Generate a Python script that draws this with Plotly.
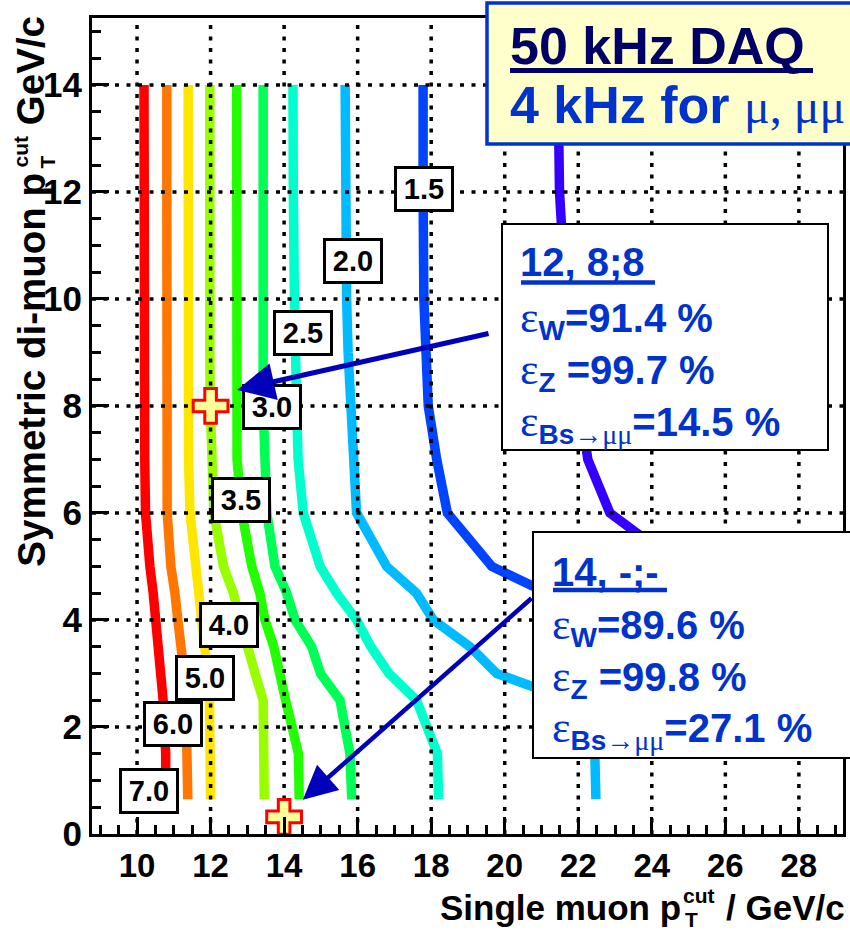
import plotly.graph_objects as go

# ---------------------------------------------------------------------------
# Iso-rate contours of the muon trigger: single muon threshold vs symmetric
# di-muon threshold.  Each contour is sampled at the di-muon threshold nodes.
# ---------------------------------------------------------------------------
dimuon_cut = [0.65, 1.5, 2.5, 3.0, 3.5, 4.0, 4.5, 5.0, 6.0, 7.0, 8.0, 9.0, 10.0, 12.0, 14.0]

rate_levels = [7.0, 6.0, 5.0, 4.0, 3.5, 3.0, 2.5, 2.0, 1.5, 1.0]

single_7p0 = [10.78, 10.78, 10.71, 10.65, 10.60, 10.51, 10.44, 10.35, 10.23, 10.21, 10.20, 10.20, 10.19, 10.19, 10.19]
single_6p0 = [11.38, 11.38, 11.33, 11.28, 11.22, 11.11, 11.03, 10.92, 10.82, 10.81, 10.81, 10.81, 10.81, 10.81, 10.81]
single_5p0 = [12.00, 12.00, 11.97, 11.92, 11.85, 11.74, 11.67, 11.58, 11.44, 11.40, 11.39, 11.39, 11.39, 11.39, 11.39]
single_4p0 = [13.46, 13.46, 13.43, 13.21, 12.98, 12.80, 12.62, 12.35, 12.09, 12.03, 11.99, 11.98, 11.98, 11.98, 11.98]
single_3p5 = [14.41, 14.39, 14.04, 13.89, 13.72, 13.48, 13.34, 13.12, 12.85, 12.72, 12.71, 12.71, 12.71, 12.71, 12.71]
single_3p0 = [15.84, 15.79, 15.52, 14.99, 14.75, 14.30, 14.07, 13.75, 13.53, 13.45, 13.43, 13.43, 13.43, 13.43, 13.43]
single_2p5 = [18.20, 18.17, 17.60, 16.85, 16.36, 15.97, 15.43, 14.98, 14.52, 14.38, 14.34, 14.30, 14.28, 14.25, 14.24]
single_2p0 = [22.48, 22.45, 21.77, 19.78, 19.05, 18.06, 17.60, 16.79, 15.97, 15.88, 15.77, 15.74, 15.70, 15.67, 15.66]
single_1p5 = [None, None, None, None, None, 24.00, 21.17, 19.65, 18.44, 18.15, 17.92, 17.86, 17.80, 17.78, 17.78]
single_1p0 = [None, None, None, None, None, 28.50, 26.50, 24.82, 22.86, 22.26, 22.02, 21.83, 21.66, 21.49, 21.45]

contour_x = [single_7p0, single_6p0, single_5p0, single_4p0, single_3p5,
             single_3p0, single_2p5, single_2p0, single_1p5, single_1p0]

# Working points: (single muon cut, di-muon cut) and their efficiencies
wp_single = [12, 14]
wp_dimuon = [8, 0.32]
wp_title = ["12, 8;8", "14, -;-"]
eff_w = [91.4, 89.6]
eff_z = [99.7, 99.8]
eff_bs = [14.5, 27.1]

# Axis ticks
x_major = [10, 12, 14, 16, 18, 20, 22, 24, 26, 28]
y_major = [0, 2, 4, 6, 8, 10, 12, 14]

# ---------------------------------------------------------------------------
# Styling
# ---------------------------------------------------------------------------
W, H = 850, 930
ML, MR, MT, MB = 92, 7, 18, 96
PW, PH = W - ML - MR, H - MT - MB
X_RANGE = [8.775, 29.2]
Y_RANGE = [0.0, 15.25]

SANS = "Liberation Sans"
SERIF = "Liberation Serif"
BLUE = "#0033cc"
NAVY = "#000066"
ARROW = "#0000bb"

line_colors = ["#ff0000", "#ff7700", "#ffe600", "#99ff00", "#22ff00",
               "#00ff55", "#00ffcc", "#00bbff", "#0044ff", "#3300ff"]

# contour-label anchor points (data coordinates) for the first nine levels
label_pos = [(10.33, 0.81), (10.97, 2.06), (11.84, 2.92), (12.50, 3.91), (12.84, 6.25),
             (13.68, 7.98), (14.51, 9.36), (15.86, 10.70), (17.80, 12.05)]


def fx(p):
    """page pixel column -> paper x"""
    return (p - ML) / PW


def fy(p):
    """page pixel row -> paper y"""
    return (H - MB - p) / PH


def serif(s, size=None):
    extra = f";font-size:{size}px" if size else ""
    return f'<span style="font-family:{SERIF};font-weight:normal{extra}">{s}</span>'


fig = go.Figure()

# contour lines
for lvl, xs, col in zip(rate_levels, contour_x, line_colors):
    fig.add_trace(go.Scatter(
        x=xs, y=dimuon_cut, mode="lines",
        line=dict(color=col, width=9.5),
        connectgaps=False, hoverinfo="skip", name=f"{lvl:.1f}",
    ))

# dotted grid drawn over the contours
gx, gy = [], []
for v in x_major:
    gx += [v, v, None]
    gy += [Y_RANGE[0], Y_RANGE[1], None]
for v in y_major[1:]:
    gx += [X_RANGE[0], X_RANGE[1], None]
    gy += [v, v, None]
fig.add_trace(go.Scatter(
    x=gx, y=gy, mode="lines",
    line=dict(color="black", width=3.5, dash="4px,7.5px"),
    hoverinfo="skip",
))

# working-point markers
fig.add_trace(go.Scatter(
    x=wp_single, y=wp_dimuon, mode="markers",
    marker=dict(symbol="cross", size=29, color="#ffff99",
                line=dict(color="#ff0000", width=3)),
    hoverinfo="skip",
))

shapes = []
annotations = []

# contour labels
for lvl, (lx, ly) in zip(rate_levels, label_pos):
    annotations.append(dict(
        x=lx, y=ly, xref="x", yref="y", text=f"{lvl:.1f}", showarrow=False,
        font=dict(family=SANS, size=29, color="black", weight="bold"),
        bgcolor="white", bordercolor="black", borderwidth=3, borderpad=3,
        width=48, height=34, xanchor="center", yanchor="middle",
    ))

# rate box
shapes.append(dict(type="rect", xref="paper", yref="paper",
                   x0=fx(487), x1=fx(905), y0=fy(144), y1=fy(3),
                   fillcolor="#ffffcc", line=dict(color=BLUE, width=3.5), layer="above"))
shapes.append(dict(type="line", xref="paper", yref="paper",
                   x0=fx(510), x1=fx(813), y0=fy(70.5), y1=fy(70.5),
                   line=dict(color=NAVY, width=5), layer="above"))
annotations.append(dict(
    x=fx(509), y=fy(63 - 0.905 * 52), xref="paper", yref="paper",
    xanchor="left", yanchor="top", showarrow=False, borderpad=0,
    text="50 kHz DAQ",
    font=dict(family=SANS, size=52, color=NAVY, weight="bold"),
))
annotations.append(dict(
    x=fx(509), y=fy(122 - 0.905 * 52), xref="paper", yref="paper",
    xanchor="left", yanchor="top", showarrow=False, borderpad=0,
    text="4 kHz for " + serif("μ, μμ", 48),
    font=dict(family=SANS, size=52, color=BLUE, weight="bold"),
))

# working-point boxes
boxes = [
    dict(x0=502, x1=828, y0=224, y1=450, tx=519, ul=(521, 655, 282.5),
         base=[275, 328, 380, 432]),
    dict(x0=533, x1=905, y0=532, y1=758, tx=551, ul=(553, 667, 590),
         base=[585, 635, 687, 738]),
]
FS = 40
for i, b in enumerate(boxes):
    shapes.append(dict(type="rect", xref="paper", yref="paper",
                       x0=fx(b["x0"]), x1=fx(b["x1"]), y0=fy(b["y1"]), y1=fy(b["y0"]),
                       fillcolor="white", line=dict(color="black", width=2), layer="above"))
    u0, u1, uy = b["ul"]
    shapes.append(dict(type="line", xref="paper", yref="paper",
                       x0=fx(u0), x1=fx(u1), y0=fy(uy), y1=fy(uy),
                       line=dict(color=BLUE, width=4.5), layer="above"))
    lines = [
        wp_title[i],
        serif("ε", 44) + f"<sub>W</sub>={eff_w[i]:.1f} %",
        serif("ε", 44) + f"<sub>Z</sub> ={eff_z[i]:.1f} %",
        serif("ε", 44) + "<sub>Bs" + serif("→μμ") + f"</sub>={eff_bs[i]:.1f} %",
    ]
    for txt, base in zip(lines, b["base"]):
        annotations.append(dict(
            x=fx(b["tx"]), y=fy(base - 0.905 * FS), xref="paper", yref="paper",
            xanchor="left", yanchor="top", showarrow=False, borderpad=0,
            text=txt, font=dict(family=SANS, size=FS, color=BLUE, weight="bold"),
        ))

# arrows from the boxes to the working points
arrow_tip = [(12.72, 8.30), (14.51, 0.64)]
arrow_tail = [(19.60, 9.36), (20.77, 4.43)]
for (tx, ty), (ax, ay), aw in zip(arrow_tip, arrow_tail, [5, 4.5]):
    annotations.append(dict(
        x=tx, y=ty, xref="x", yref="y", ax=ax, ay=ay, axref="x", ayref="y",
        text="", showarrow=True, arrowhead=2, arrowsize=1.5, arrowwidth=aw,
        arrowcolor=ARROW, standoff=0, startstandoff=0,
    ))

# axis titles, built from pieces so that the super/subscripts stack
TF = 35
tfont = dict(family=SANS, size=TF, color="black", weight="bold")
sfont = dict(family=SANS, size=21, color="black", weight="bold")
annotations += [
    dict(x=fx(682), y=fy(919 - 0.905 * TF), xref="paper", yref="paper", xanchor="right",
         yanchor="top", showarrow=False, borderpad=0, text="Single muon p", font=tfont),
    dict(x=fx(682), y=fy(902 - 0.905 * 21), xref="paper", yref="paper", xanchor="left",
         yanchor="top", showarrow=False, borderpad=0, text="cut", font=sfont),
    dict(x=fx(684), y=fy(926 - 0.905 * 21), xref="paper", yref="paper", xanchor="left",
         yanchor="top", showarrow=False, borderpad=0, text="T", font=sfont),
    dict(x=fx(846), y=fy(919 - 0.905 * TF), xref="paper", yref="paper", xanchor="right",
         yanchor="top", showarrow=False, borderpad=0, text="/ GeV/c", font=tfont),
]
YF = 38.5
yfont = dict(family=SANS, size=YF, color="black", weight="bold")
annotations += [
    dict(x=fx(43 - 0.905 * YF), y=fy(172), xref="paper", yref="paper", xanchor="left",
         yanchor="top", textangle=-90, showarrow=False, borderpad=0,
         text="Symmetric di-muon p", font=yfont),
    dict(x=fx(27 - 0.905 * 21), y=fy(134), xref="paper", yref="paper", xanchor="left",
         yanchor="top", textangle=-90, showarrow=False, borderpad=0,
         text="cut", font=sfont),
    dict(x=fx(54 - 0.905 * 21), y=fy(162), xref="paper", yref="paper", xanchor="left",
         yanchor="middle", textangle=-90, showarrow=False, borderpad=0,
         text="T", font=sfont),
    dict(x=fx(43 - 0.905 * YF), y=fy(15), xref="paper", yref="paper", xanchor="left",
         yanchor="top", textangle=-90, showarrow=False, borderpad=0,
         text="GeV/c", font=yfont),
]

axis_common = dict(
    showgrid=False, zeroline=False,
    showline=True, linecolor="black", linewidth=3, mirror=True,
    ticks="inside", ticklen=17, tickwidth=2.5, tickcolor="black",
    minor=dict(ticks="inside", ticklen=9, tickwidth=2.5, dtick=0.5,
               tickcolor="black", showgrid=False),
    tick0=0, dtick=2,
)

fig.update_layout(
    width=W, height=H,
    margin=dict(l=ML, r=MR, t=MT, b=MB, autoexpand=False),
    paper_bgcolor="white", plot_bgcolor="white",
    showlegend=False, hovermode=False,
    xaxis=dict(range=X_RANGE, tickvals=x_major,
               tickfont=dict(family=SANS, size=33, color="black", weight="bold"),
               **axis_common),
    yaxis=dict(range=Y_RANGE, tickvals=y_major,
               tickfont=dict(family=SANS, size=35, color="black", weight="bold"),
               **axis_common),
    shapes=shapes,
    annotations=annotations,
)

fig.write_html("out.html", config={"displayModeBar": False})
